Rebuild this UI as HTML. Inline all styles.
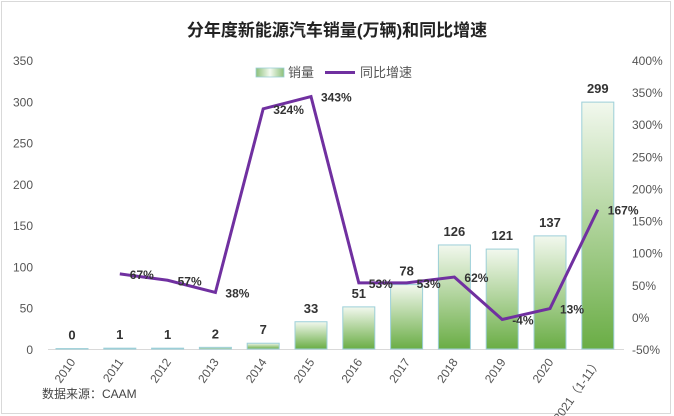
<!DOCTYPE html>
<html><head><meta charset="utf-8"><style>
html,body{margin:0;padding:0;background:#fff;}
svg{display:block;font-family:"Liberation Sans","Noto Sans CJK SC",sans-serif;}
</style></head><body>
<svg width="674" height="416" viewBox="0 0 674 416">
<defs>
<linearGradient id="bg" x1="0" y1="0" x2="0" y2="1">
<stop offset="0" stop-color="#f2f8ee"/><stop offset="1" stop-color="#6aad45"/>
</linearGradient>
<linearGradient id="lg" x1="0" y1="0" x2="1" y2="0">
<stop offset="0" stop-color="#8cc07a"/><stop offset="0.5" stop-color="#f4faf0"/><stop offset="1" stop-color="#8cc07a"/>
</linearGradient>
</defs>
<rect x="1.5" y="1.5" width="669" height="412" fill="#fff" stroke="#d9d9d9"/>
<text x="337" y="36" text-anchor="middle" font-size="17" font-weight="bold" fill="#222">分年度新能源汽车销量(万辆)和同比增速</text>
<g>
<rect x="256" y="68" width="28" height="9" fill="url(#lg)" stroke="#9ccfd8" stroke-width="0.8"/>
<text x="288" y="77" font-size="13" fill="#555">销量</text>
<line x1="325" y1="72.5" x2="355" y2="72.5" stroke="#7030a0" stroke-width="3"/>
<text x="360" y="77" font-size="13" fill="#555">同比增速</text>
</g>
<g id="axes"></g>
<g id="bars"></g>
<g id="line"></g>
<text x="42" y="398" font-size="12" fill="#444">数据来源：CAAM</text>
</svg>
<script>
const categories=["2010","2011","2012","2013","2014","2015","2016","2017","2018","2019","2020","2021（1-11）"];
const sales=[0.5,1,1,2,7,33,51,78,126,121,137,299];
const salesLabels=["0","1","1","2","7","33","51","78","126","121","137","299"];
const growth=[null,67,57,38,324,343,53,53,62,-4,13,167];
const leftTicks=[0,50,100,150,200,250,300,350];
const rightTicks=[-50,0,50,100,150,200,250,300,350,400];

const NS="http://www.w3.org/2000/svg";
const x0=72,step=47.8,bw=32;
const xC=i=>x0+i*step;
const yL=v=>349-v*(289/350);
const yR=v=>349-(v+50)*(289/450);
function mk(tag,attrs,parent,txt){const e=document.createElementNS(NS,tag);for(const k in attrs)e.setAttribute(k,attrs[k]);if(txt!=null)e.textContent=txt;parent.appendChild(e);return e;}
const axes=document.getElementById('axes'),bars=document.getElementById('bars'),line=document.getElementById('line');
leftTicks.forEach(t=>{const e=mk('text',{x:33,y:yL(t)+5,'text-anchor':'end','font-size':12,fill:'#555'},axes,String(t));

});
rightTicks.forEach(t=>{const e=mk('text',{x:632,y:yR(t)+5,'font-size':12,fill:'#555'},axes,t+'%');

});
const ax=mk('line',{x1:48,x2:624,y1:349.5,y2:349.5,stroke:'#d9d9d9'},axes);


categories.forEach((c,i)=>{const x=xC(i),y=362;
const e=mk('text',{x:x+4,y:y,'text-anchor':'end','font-size':12,fill:'#555',transform:`rotate(-55 ${x+4} ${y})`},axes,c);

});
sales.forEach((v,i)=>{const top=yL(v);
const r=mk('rect',{x:xC(i)-bw/2,y:top,width:bw,height:349-top,fill:'url(#bg)',stroke:'#9ccfd8','stroke-width':1},bars);


const t=mk('text',{x:xC(i),y:top-9,'text-anchor':'middle','font-size':13,'font-weight':'bold',fill:'#333'},bars,salesLabels[i]);

});
let pts=[];growth.forEach((g,i)=>{if(g!=null)pts.push([xC(i),yR(g)]);});
const pl=mk('polyline',{points:pts.map(p=>p.join(',')).join(' '),fill:'none',stroke:'#7030a0','stroke-width':3,'stroke-linejoin':'miter'},line);


growth.forEach((g,i)=>{if(g==null)return;
const t=mk('text',{x:xC(i)+10,y:yR(g)+5,'font-size':12,'font-weight':'bold',fill:'#333'},line,g+'%');

});
</script>
</body></html>
